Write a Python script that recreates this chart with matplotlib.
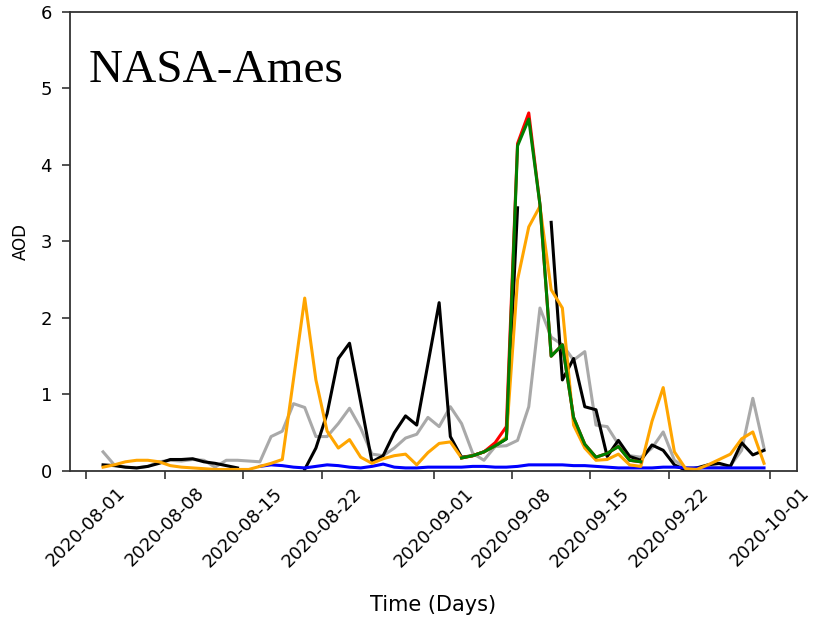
import numpy as np
import pandas as pd
import matplotlib
matplotlib.use("Agg")
import matplotlib.pyplot as plt
import matplotlib.dates as mdates

nan = np.nan

# daily AOD values, 2020-08-02 .. 2020-09-30 (sampled at noon)
dates = pd.date_range("2020-08-02 12:00", "2020-09-30 12:00", freq="D")

black = [0.08, 0.07, 0.05, 0.04, 0.06, 0.10, 0.15, 0.15, 0.16, 0.12,
         0.10, 0.07, 0.04, nan, nan, nan, nan, nan, 0.02, 0.30,
         0.75, 1.47, 1.67, 0.90, 0.12, 0.20, 0.50, 0.72, 0.60, 1.40,
         2.20, 0.45, 0.18, 0.20, 0.25, 0.33, 0.42, 3.44, nan, nan,
         3.25, 1.19, 1.47, 0.84, 0.80, 0.19, 0.40, 0.19, 0.14, 0.34,
         0.27, 0.08, 0.01, 0.04, 0.08, 0.10, 0.06, 0.37, 0.21, 0.27]

gray = [0.25, 0.08, 0.05, 0.04, 0.06, 0.12, 0.14, 0.13, 0.15, 0.14,
        0.05, 0.14, 0.14, 0.13, 0.12, 0.45, 0.52, 0.88, 0.83, 0.45,
        0.45, 0.62, 0.82, 0.56, 0.22, 0.20, 0.30, 0.43, 0.48, 0.70,
        0.58, 0.84, 0.62, 0.23, 0.14, 0.32, 0.33, 0.40, 0.84, 2.13,
        1.75, 1.65, 1.45, 1.56, 0.60, 0.58, 0.35, 0.20, 0.18, 0.30,
        0.51, 0.14, 0.04, 0.04, 0.05, 0.05, 0.07, 0.27, 0.95, 0.30]

orange = [0.05, 0.08, 0.12, 0.14, 0.14, 0.12, 0.07, 0.05, 0.04, 0.03,
          0.02, 0.02, 0.02, 0.02, 0.06, 0.10, 0.15, 1.20, 2.26, 1.19,
          0.52, 0.30, 0.41, 0.18, 0.10, 0.16, 0.20, 0.22, 0.08, 0.24,
          0.36, 0.38, 0.17, 0.20, 0.25, 0.33, 0.44, 2.50, 3.19, 3.46,
          2.37, 2.13, 0.60, 0.30, 0.14, 0.15, 0.22, 0.08, 0.06, 0.65,
          1.09, 0.25, 0.03, 0.02, 0.08, 0.15, 0.22, 0.42, 0.51, 0.10]

red = [nan] * 32 + [0.17, 0.20, 0.25, 0.37, 0.58, 4.28, 4.68, 3.48,
                    1.50, 1.65, 0.70, 0.35, 0.18, 0.23, 0.32, 0.14, 0.12] + [nan] * 11

green = [nan] * 32 + [0.17, 0.20, 0.25, 0.33, 0.42, 4.25, 4.60, 3.48,
                      1.50, 1.65, 0.70, 0.35, 0.18, 0.23, 0.32, 0.14, 0.12] + [nan] * 11

blue = [nan] * 14 + [0.06, 0.08, 0.07, 0.05, 0.04, 0.06, 0.08, 0.07,
                     0.05, 0.04, 0.06, 0.09, 0.05, 0.04, 0.04, 0.05,
                     0.05, 0.05, 0.05, 0.06, 0.06, 0.05, 0.05, 0.06,
                     0.08, 0.08, 0.08, 0.08, 0.07, 0.07, 0.06, 0.05,
                     0.04, 0.04, 0.04, 0.04, 0.05, 0.05, 0.04, 0.04,
                     0.04, 0.04, 0.04, 0.04, 0.04, 0.04]

fig = plt.figure(figsize=(8.16, 6.22), dpi=100)
ax = fig.add_axes([0.0858, 0.2428, 0.891, 0.738])

lw = 2.2
ax.plot(dates, gray, color="darkgray", lw=lw)
ax.plot(dates, black, color="black", lw=lw)
ax.plot(dates, blue, color="blue", lw=lw)
ax.plot(dates, orange, color="orange", lw=lw)
ax.plot(dates, red, color="red", lw=lw)
ax.plot(dates, green, color="green", lw=lw)

ax.set_ylim(0, 6)
ax.xaxis.set_major_locator(mdates.DayLocator(bymonthday=[1, 8, 15, 22]))
ax.xaxis.set_major_formatter(mdates.DateFormatter("%Y-%m-%d"))
plt.setp(ax.get_xticklabels(), rotation=45)
ax.tick_params(labelsize=13, length=6, width=1.2, color="#333333")
ax.tick_params(axis="y", pad=7)
for s in ax.spines.values():
    s.set_linewidth(1.3)
    s.set_color("#333333")

ax.set_xlabel("Time (Days)", fontsize=15)
ax.set_ylabel("AOD", fontsize=12)
ax.xaxis.set_label_coords(0.5, -0.27)
ax.yaxis.set_label_coords(-0.055, 0.5)

ax.text(0.025, 0.847, "NASA-Ames", transform=ax.transAxes,
        fontsize=34, family="Liberation Serif", va="baseline")

fig.savefig("out.png", dpi=100)
